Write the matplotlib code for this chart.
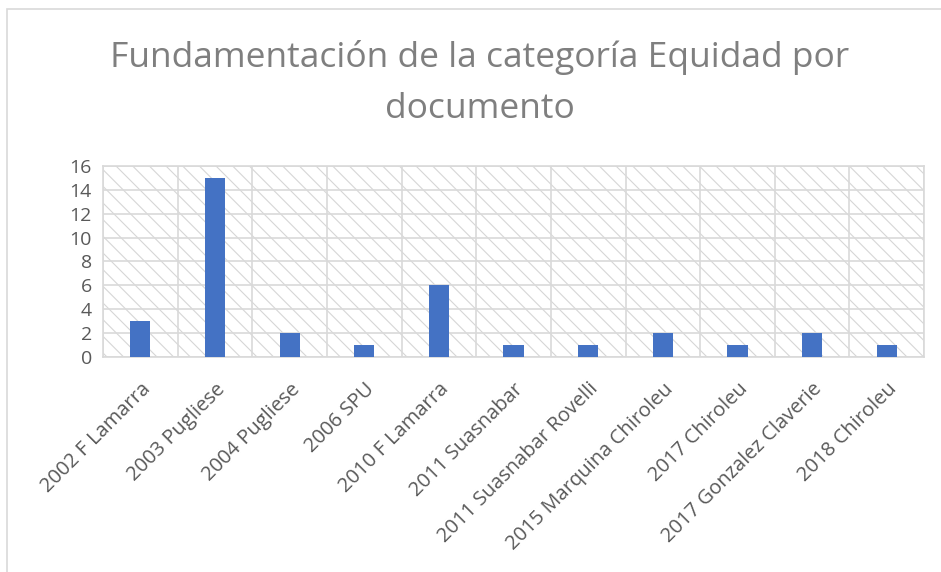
import matplotlib

matplotlib.use("Agg")
import matplotlib.pyplot as plt
from matplotlib.patches import Rectangle

categories = [
    "2002 F Lamarra",
    "2003 Pugliese",
    "2004 Pugliese",
    "2006 SPU",
    "2010 F Lamarra",
    "2011 Suasnabar",
    "2011 Suasnabar Rovelli",
    "2015 Marquina Chiroleu",
    "2017 Chiroleu",
    "2017 Gonzalez Claverie",
    "2018 Chiroleu",
]
values = [3, 15, 2, 1, 6, 1, 1, 2, 1, 2, 1]
yticks = [0, 2, 4, 6, 8, 10, 12, 14, 16]
title = "Fundamentación de la categoría Equidad por\ndocumento"

plt.rcParams["font.family"] = ["Open Sans", "DejaVu Sans"]
plt.rcParams["hatch.linewidth"] = 0.8

fig = plt.figure(figsize=(9.41, 5.72), dpi=100)
# chart frame (cropped at right and bottom in the original)
fig.add_artist(Rectangle((0.0075, -0.1), 1.2, 1.084, transform=fig.transFigure,
                         fill=False, edgecolor="#d9d9d9", lw=1.2))

ax = fig.add_axes([0.1095, 0.376, 0.8725, 0.334])
x = range(len(categories))
ax.set_xlim(-0.5, len(categories) - 0.5)
ax.set_ylim(0, 16)

# hatched plot-area background
ax.add_patch(Rectangle((0, 0), 1, 1, transform=ax.transAxes, facecolor="white",
                       edgecolor="#d6d6d6", lw=0, hatch="\\\\", zorder=0))

ax.bar(x, values, width=0.27, color="#4472c4", zorder=3)

ax.set_yticks(yticks)
ax.set_xticks(list(x))
ax.set_xticklabels(categories, rotation=45, ha="right", rotation_mode="anchor")
ax.tick_params(axis="both", length=0, labelsize=14, colors="#595959")
ax.tick_params(axis="x", pad=16, labelsize=14.5)
ax.tick_params(axis="y", pad=8)

ax.set_xticks([i + 0.5 for i in range(-1, len(categories))], minor=True)
ax.tick_params(which="minor", length=0)
ax.grid(axis="y", which="major", color="#d9d9d9", lw=1.2, zorder=1)
ax.grid(axis="x", which="minor", color="#d9d9d9", lw=1.2, zorder=1)
ax.grid(axis="x", which="major", visible=False)
for s in ax.spines.values():
    s.set_color("#d9d9d9")
    s.set_linewidth(1.2)

fig.text(0.51, 0.855, title, ha="center", va="center", fontsize=25.5,
         color="#7f7f7f", linespacing=1.62)

fig.savefig("out.png", dpi=100)
